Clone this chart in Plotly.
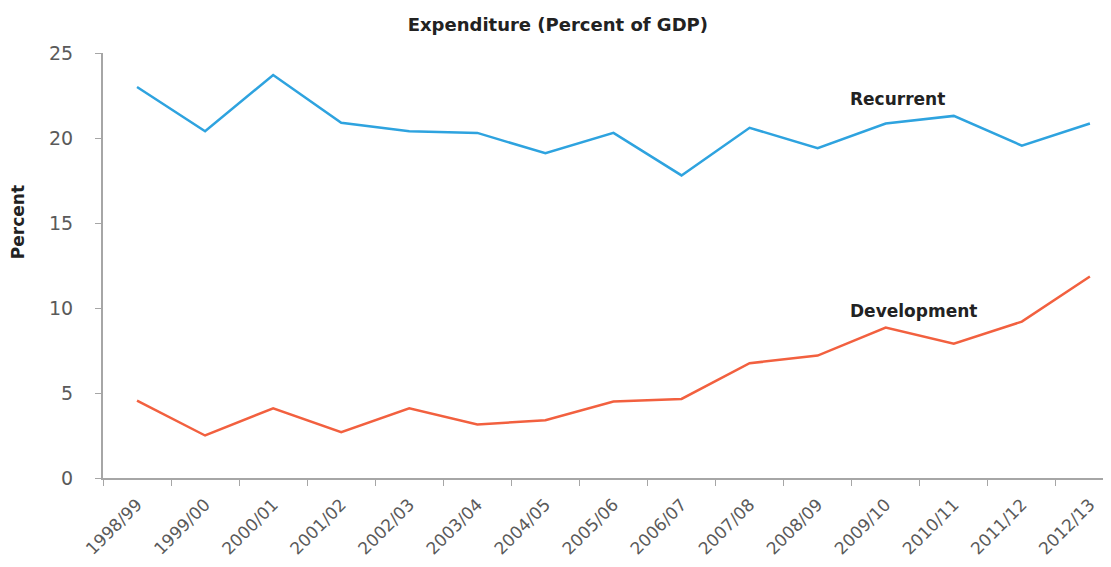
import plotly.graph_objects as go

years = ["1998/99", "1999/00", "2000/01", "2001/02", "2002/03", "2003/04", "2004/05",
         "2005/06", "2006/07", "2007/08", "2008/09", "2009/10", "2010/11", "2011/12", "2012/13"]
recurrent = [23.0, 20.4, 23.7, 20.9, 20.4, 20.3, 19.1, 20.3, 17.8, 20.6, 19.4, 20.85, 21.3, 19.55, 20.85]
development = [4.55, 2.5, 4.1, 2.7, 4.1, 3.15, 3.4, 4.5, 4.65, 6.75, 7.2, 8.85, 7.9, 9.2, 11.85]

blue = "#2EA3DF"
orange = "#F2603F"
font_family = "'DejaVu Sans', sans-serif"

fig = go.Figure()
fig.add_trace(go.Scatter(x=years, y=recurrent, mode="lines",
                         line=dict(color=blue, width=2.5), name="Recurrent"))
fig.add_trace(go.Scatter(x=years, y=development, mode="lines",
                         line=dict(color=orange, width=2.5), name="Development"))

fig.add_annotation(x=10.44, y=22.3, text="<b>Recurrent</b>", showarrow=False,
                   xanchor="left", yanchor="middle",
                   font=dict(family=font_family, size=17, color="#222"))
fig.add_annotation(x=10.44, y=9.82, text="<b>Development</b>", showarrow=False,
                   xanchor="left", yanchor="middle",
                   font=dict(family=font_family, size=17, color="#222"))
fig.add_annotation(xref="paper", yref="paper", x=-0.0843, y=0.602, text="<b>Percent</b>",
                   showarrow=False, textangle=-90, xanchor="center", yanchor="middle",
                   font=dict(family=font_family, size=17, color="#222"))

fig.update_layout(
    width=1103, height=559,
    paper_bgcolor="white", plot_bgcolor="white",
    showlegend=False,
    margin=dict(l=95, r=0, t=45, b=89),
    title=dict(text="<b>Expenditure (Percent of GDP)</b>", x=0.4985, xanchor="center",
               y=0.971, yanchor="middle",
               font=dict(family=font_family, size=18, color="#222")),
    font=dict(family=font_family),
)
fig.update_xaxes(
    type="category", range=[-0.5, 14.31],
    tickangle=-45, showgrid=False, zeroline=False,
    showline=True, linecolor="#A6A6A6", linewidth=2,
    ticks="outside", ticklen=6, tickcolor="#A6A6A6", tickson="boundaries",
    ticklabelstandoff=8,
    tickfont=dict(family=font_family, size=17, color="#5a5a5a"),
)
fig.update_yaxes(
    range=[0, 25], tickvals=[0, 5, 10, 15, 20, 25], showgrid=False, zeroline=False,
    showline=True, linecolor="#A6A6A6", linewidth=2,
    ticks="outside", ticklen=6, tickcolor="#A6A6A6", ticklabelstandoff=18,
    tickfont=dict(family=font_family, size=19, color="#5a5a5a"),
)

fig.write_html("out.html")
